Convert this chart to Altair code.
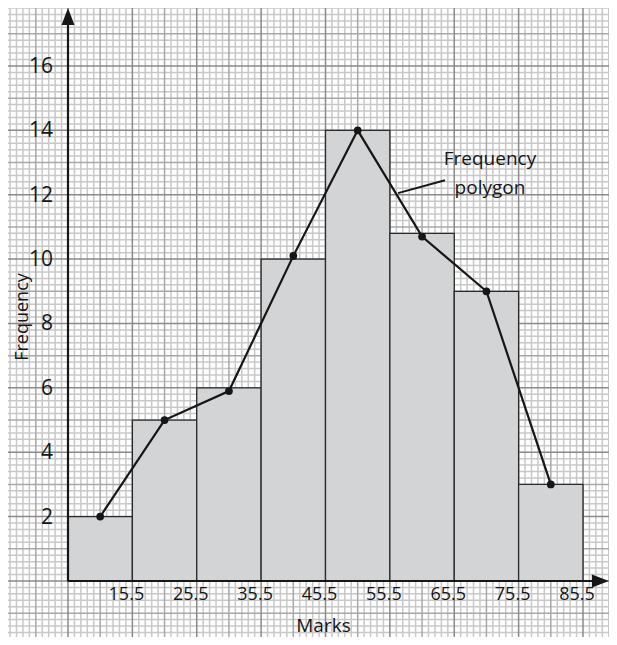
import altair as alt
import numpy as np
import pandas as pd

# ---- data ----
lower = [5.5, 15.5, 25.5, 35.5, 45.5, 55.5, 65.5, 75.5]
upper = [15.5, 25.5, 35.5, 45.5, 55.5, 65.5, 75.5, 85.5]
freq = [2, 5, 6, 10, 14, 10.8, 9, 3]
mids = [10.5, 20.5, 30.5, 40.5, 50.5, 60.5, 70.5, 80.5]
poly = [2, 5, 5.9, 10.1, 14, 10.7, 9, 3]
x_ticks = [15.5, 25.5, 35.5, 45.5, 55.5, 65.5, 75.5, 85.5]
x_tick_labels = ["15.5", "25.5", "35.5", "45.5", "55.5", "65.5", "75.5", "85.5"]
y_ticks = [2, 4, 6, 8, 10, 12, 14, 16]

FONT = "Open Sans"
INK = "#161616"

W, H = 601, 629
xs = alt.Scale(domain=[-3.82, 89.54], nice=False, zero=False)
ys = alt.Scale(domain=[-1.74, 17.80], nice=False, zero=False)

bars = pd.DataFrame({"lo": lower, "hi": upper, "f": freq})
pts = pd.DataFrame({"m": mids, "f": poly})

# graph paper
vx = 5.5 + np.arange(-10, 85)
hy = np.round(0.2 * np.arange(-9, 90), 2)
vdf = pd.DataFrame({"v": vx, "lvl": [("maj" if (k % 10 == 0) else "mid" if (k % 5 == 0) else "min") for k in range(-10, 85)]})
hdf = pd.DataFrame({"v": hy, "lvl": [("maj" if (k % 10 == 0) else "mid" if (k % 5 == 0) else "min") for k in range(-9, 90)]})

def vgrid(lvl, color):
    return alt.Chart(vdf[vdf.lvl == lvl]).mark_rule(color=color, strokeWidth=1.5).encode(
        x=alt.X("v:Q", scale=xs, axis=None))

def hgrid(lvl, color):
    return alt.Chart(hdf[hdf.lvl == lvl]).mark_rule(color=color, strokeWidth=1.5).encode(
        y=alt.Y("v:Q", scale=ys, axis=None))

grid = (vgrid("min", "#c8c8c8") + hgrid("min", "#c8c8c8")
        + vgrid("mid", "#a8a8a8") + hgrid("mid", "#a8a8a8")
        + vgrid("maj", "#8a8a8a") + hgrid("maj", "#8a8a8a"))

rects = alt.Chart(bars).mark_rect(fill="#d3d4d6", stroke="#2a2a2a", strokeWidth=1.3).encode(
    x=alt.X("lo:Q", scale=xs, axis=None), x2="hi:Q",
    y=alt.Y("f:Q", scale=ys, axis=None), y2=alt.datum(0))

axdf = pd.DataFrame({"x0": [5.5], "y0": [0]})
xaxis = alt.Chart(axdf).mark_rule(color=INK, strokeWidth=2.2).encode(
    x=alt.X("x0:Q", scale=xs, axis=None), x2=alt.datum(89.0),
    y=alt.Y("y0:Q", scale=ys, axis=None))
yaxis = alt.Chart(axdf).mark_rule(color=INK, strokeWidth=2.2).encode(
    x=alt.X("x0:Q", scale=xs, axis=None),
    y=alt.Y("y0:Q", scale=ys, axis=None), y2=alt.datum(17.4))

up_arrow = alt.Chart(pd.DataFrame({"x": [5.5], "y": [17.535]})).mark_point(
    shape="M0,-1L-0.76,1L0.76,1Z", size=289, filled=True, color=INK, opacity=1).encode(
    x=alt.X("x:Q", scale=xs, axis=None), y=alt.Y("y:Q", scale=ys, axis=None))
right_arrow = alt.Chart(pd.DataFrame({"x": [88.2], "y": [0]})).mark_point(
    shape="M1,0L-1,-0.76L-1,0.76Z", size=289, filled=True, color=INK, opacity=1).encode(
    x=alt.X("x:Q", scale=xs, axis=None), y=alt.Y("y:Q", scale=ys, axis=None))

line = alt.Chart(pts).mark_line(color=INK, strokeWidth=2.2).encode(
    x=alt.X("m:Q", scale=xs, axis=None), y=alt.Y("f:Q", scale=ys, axis=None))
dots = alt.Chart(pts).mark_circle(color=INK, size=60, opacity=1).encode(
    x=alt.X("m:Q", scale=xs, axis=None), y=alt.Y("f:Q", scale=ys, axis=None))

xl = alt.Chart(pd.DataFrame({"x": x_ticks, "t": x_tick_labels, "y": [0] * len(x_ticks)})).mark_text(
    font=FONT, fontSize=18, color=INK, align="center", baseline="middle", dx=-6, dy=14).encode(
    x=alt.X("x:Q", scale=xs, axis=None), y=alt.Y("y:Q", scale=ys, axis=None), text="t:N")
yl = alt.Chart(pd.DataFrame({"y": y_ticks, "x": [5.5] * len(y_ticks)})).mark_text(
    font=FONT, fontSize=21, color=INK, align="right", baseline="middle", dx=-15, dy=1).encode(
    x=alt.X("x:Q", scale=xs, axis=None), y=alt.Y("y:Q", scale=ys, axis=None), text="y:Q")

xtitle = alt.Chart(pd.DataFrame({"x": [45.5], "y": [0], "t": ["Marks"]})).mark_text(
    font=FONT, fontSize=19, color=INK, align="center", baseline="middle", dx=-2, dy=45).encode(
    x=alt.X("x:Q", scale=xs, axis=None), y=alt.Y("y:Q", scale=ys, axis=None), text="t:N")
ytitle = alt.Chart(pd.DataFrame({"x": [5.5], "y": [8.2], "t": ["Frequency"]})).mark_text(
    font=FONT, fontSize=18, color=INK, align="center", baseline="middle", angle=270, dy=-45).encode(
    x=alt.X("x:Q", scale=xs, axis=None), y=alt.Y("y:Q", scale=ys, axis=None), text="t:N")

ann = alt.Chart(pd.DataFrame({"x": [71.05, 71.05], "y": [13.1, 12.22], "t": ["Frequency", "polygon"]})).mark_text(
    font=FONT, fontSize=19, color=INK, align="center", baseline="middle").encode(
    x=alt.X("x:Q", scale=xs, axis=None), y=alt.Y("y:Q", scale=ys, axis=None), text="t:N")
leader = alt.Chart(pd.DataFrame({"x": [64.06], "y": [12.45], "x2": [56.76], "y2": [12.05]})).mark_rule(
    color=INK, strokeWidth=2).encode(
    x=alt.X("x:Q", scale=xs, axis=None), y=alt.Y("y:Q", scale=ys, axis=None), x2="x2:Q", y2="y2:Q")

chart = alt.layer(grid, rects, xaxis, yaxis, up_arrow, right_arrow, line, dots, xl, yl,
                  xtitle, ytitle, ann, leader).properties(
    width=W, height=H, padding=0, autosize=alt.AutoSizeParams(type="none"),
    background="white").configure_view(stroke=None)

chart.save("out.html", embed_options={"renderer": "svg", "actions": False})
